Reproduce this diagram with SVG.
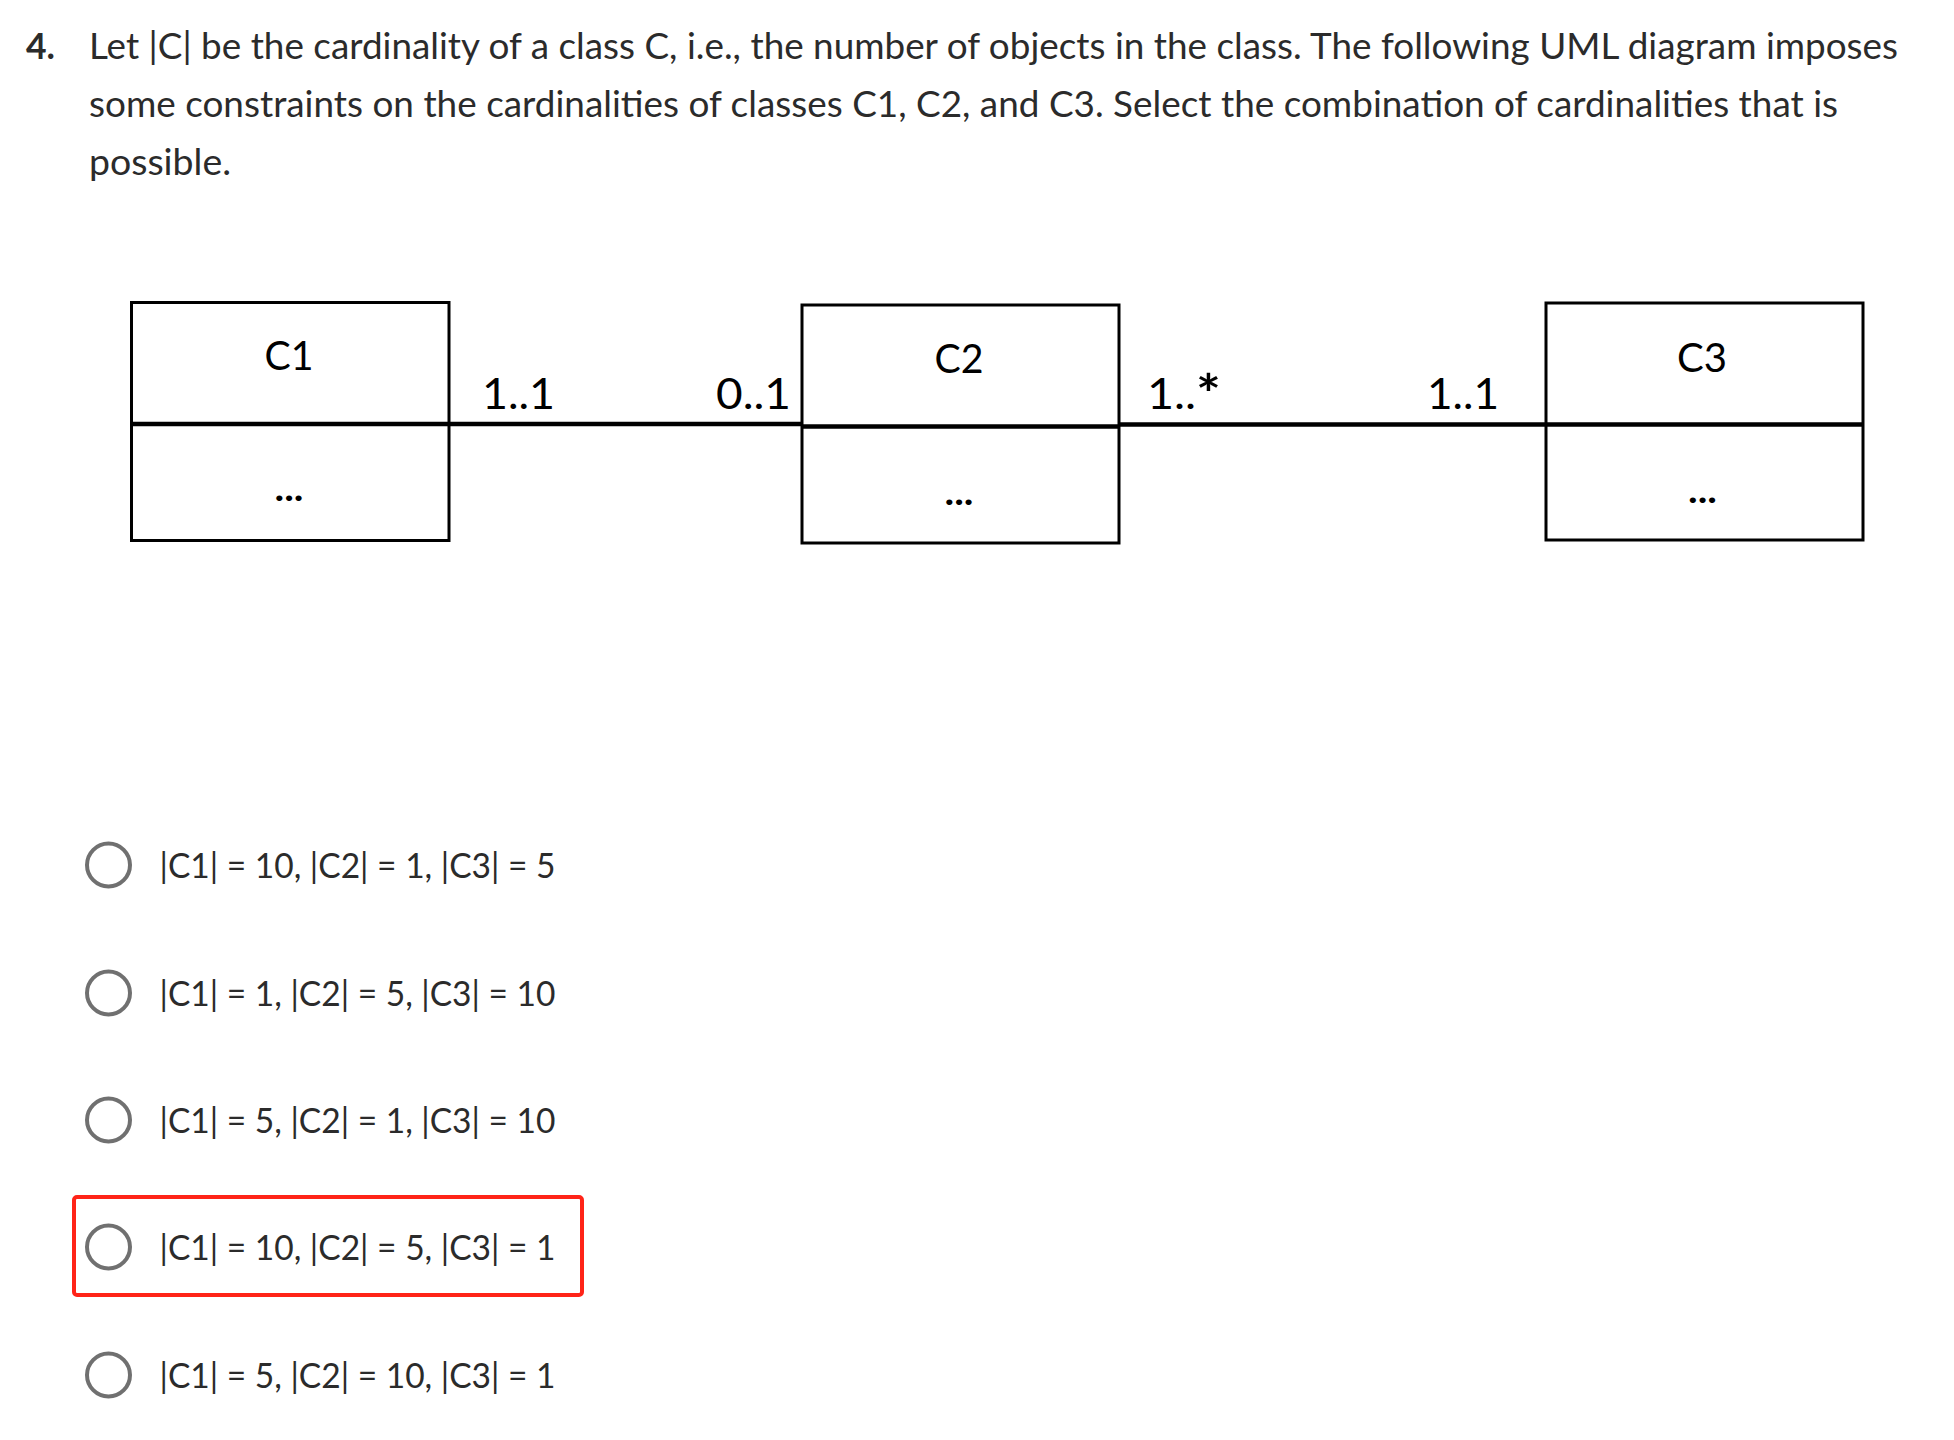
<svg xmlns="http://www.w3.org/2000/svg" width="1954" height="1440" viewBox="0 0 1954 1440">
  <style>
    .q { font-family: "Lato", "Liberation Sans", sans-serif; font-size: 36px; fill: #2b2b2b; }
    .qn { font-family: "Lato", "Liberation Sans", sans-serif; font-size: 36px; font-weight: bold; fill: #2b2b2b; }
    .box { fill: #ffffff; stroke: #000000; stroke-width: 3; }
    .div { stroke: #000000; stroke-width: 4.5; }
    .cname { font-family: "Lato", "Liberation Sans", sans-serif; font-size: 40px; fill: #000000; text-anchor: middle; }
    .dots { font-family: "Lato", "Liberation Sans", sans-serif; font-size: 36px; font-weight: bold; fill: #000000; text-anchor: middle; }
    .mult { font-family: "Lato", "Liberation Sans", sans-serif; font-size: 43px; fill: #000000; }
    .conn { stroke: #000000; stroke-width: 4.5; fill: none; }
    .radio { fill: #ffffff; stroke: #707070; stroke-width: 4; }
    .opt { font-family: "Lato", "Liberation Sans", sans-serif; font-size: 35px; fill: #2b2b2b; }
    .sel { fill: none; stroke: #ff2418; stroke-width: 4; }
  </style>
  <rect width="1954" height="1440" fill="#ffffff"/>

  <g id="question">
    <text class="qn" x="26" y="59" textLength="29" lengthAdjust="spacingAndGlyphs">4.</text>
    <text class="q" x="89" y="59" textLength="1809" lengthAdjust="spacingAndGlyphs">Let |C| be the cardinality of a class C, i.e., the number of objects in the class. The following UML diagram imposes</text>
    <text class="q" x="89" y="117" textLength="1749" lengthAdjust="spacingAndGlyphs">some constraints on the cardinalities of classes C1, C2, and C3. Select the combination of cardinalities that is</text>
    <text class="q" x="89" y="175" textLength="142" lengthAdjust="spacingAndGlyphs">possible.</text>
  </g>

  <g id="connectors">
    <line class="conn" x1="449" y1="424" x2="802" y2="424"/>
    <line class="conn" x1="1119" y1="424.5" x2="1546" y2="424.5"/>
    <text class="mult" x="482" y="409" textLength="73" lengthAdjust="spacingAndGlyphs">1..1</text>
    <text class="mult" x="716" y="409" textLength="75" lengthAdjust="spacingAndGlyphs">0..1</text>
    <text class="mult" x="1147" y="409" textLength="74" lengthAdjust="spacingAndGlyphs">1..<tspan font-size="54" font-weight="bold" dy="4">*</tspan></text>
    <text class="mult" x="1427" y="409" textLength="72" lengthAdjust="spacingAndGlyphs">1..1</text>
  </g>

  <g id="C1">
    <rect class="box" x="131.5" y="302.5" width="317.5" height="238"/>
    <line class="div" x1="131.5" y1="424" x2="449" y2="424"/>
    <text class="cname" x="289" y="370" textLength="49" lengthAdjust="spacingAndGlyphs">C1</text>
    <text class="dots" x="289" y="501" textLength="29" lengthAdjust="spacingAndGlyphs">...</text>
  </g>

  <g id="C2">
    <rect class="box" x="802" y="305" width="317" height="238"/>
    <line class="div" x1="802" y1="426.5" x2="1119" y2="426.5"/>
    <text class="cname" x="959" y="373" textLength="49" lengthAdjust="spacingAndGlyphs">C2</text>
    <text class="dots" x="959" y="505" textLength="29" lengthAdjust="spacingAndGlyphs">...</text>
  </g>

  <g id="C3">
    <rect class="box" x="1546" y="303" width="317" height="237"/>
    <line class="div" x1="1546" y1="424.5" x2="1863" y2="424.5"/>
    <text class="cname" x="1702" y="371.5" textLength="50" lengthAdjust="spacingAndGlyphs">C3</text>
    <text class="dots" x="1702.5" y="503" textLength="29" lengthAdjust="spacingAndGlyphs">...</text>
  </g>

  <g id="options">
    <circle class="radio" cx="108.5" cy="865" r="21.5"/>
    <text class="opt" x="159.5" y="877.5" textLength="396" lengthAdjust="spacingAndGlyphs">|C1| = 10, |C2| = 1, |C3| = 5</text>

    <circle class="radio" cx="108.5" cy="993" r="21.5"/>
    <text class="opt" x="159.5" y="1005.5" textLength="396" lengthAdjust="spacingAndGlyphs">|C1| = 1, |C2| = 5, |C3| = 10</text>

    <circle class="radio" cx="108.5" cy="1120" r="21.5"/>
    <text class="opt" x="159.5" y="1132.5" textLength="396" lengthAdjust="spacingAndGlyphs">|C1| = 5, |C2| = 1, |C3| = 10</text>

    <rect class="sel" x="74" y="1197" width="508" height="98" rx="3"/>
    <circle class="radio" cx="108.5" cy="1247" r="21.5"/>
    <text class="opt" x="159.5" y="1259.5" textLength="396" lengthAdjust="spacingAndGlyphs">|C1| = 10, |C2| = 5, |C3| = 1</text>

    <circle class="radio" cx="108.5" cy="1375" r="21.5"/>
    <text class="opt" x="159.5" y="1387.5" textLength="396" lengthAdjust="spacingAndGlyphs">|C1| = 5, |C2| = 10, |C3| = 1</text>
  </g>
</svg>
